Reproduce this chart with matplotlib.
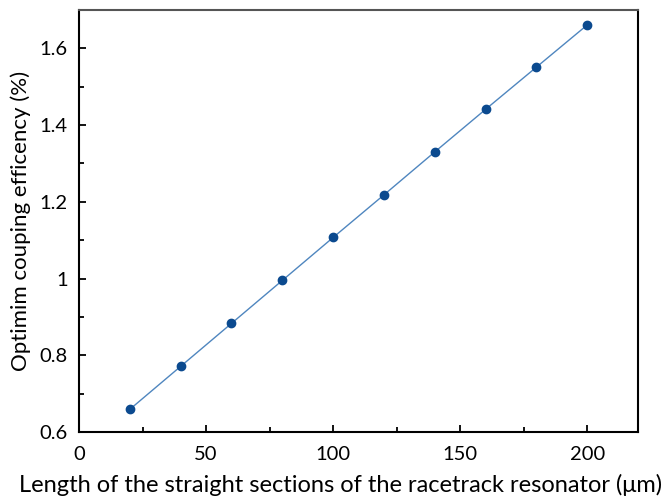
import numpy as np
import matplotlib
matplotlib.use("Agg")
import matplotlib.pyplot as plt
from matplotlib.ticker import MultipleLocator, FuncFormatter

# straight-section length (um) vs optimum coupling efficiency (%)
length_um = [20, 40, 60, 80, 100, 120, 140, 160, 180, 200]
coupling_pct = [0.659, 0.771, 0.883, 0.995, 1.107, 1.218, 1.330, 1.441, 1.551, 1.661]

plt.rcParams["font.family"] = ["Lato", "DejaVu Sans"]

fig = plt.figure(figsize=(6.71, 4.97), dpi=100)
ax = fig.add_axes([0.1177, 0.1308, 0.8333, 0.8492])

ax.plot(length_um, coupling_pct, color="#4f86bf", lw=1.0, zorder=2)
ax.plot(length_um, coupling_pct, "o", color="#0b4a8f", ms=6, zorder=3)

ax.set_xlim(0, 220)
ax.set_ylim(0.6, 1.7)
ax.xaxis.set_major_locator(MultipleLocator(50))
ax.xaxis.set_minor_locator(MultipleLocator(25))
ax.yaxis.set_major_locator(MultipleLocator(0.2))
ax.yaxis.set_minor_locator(MultipleLocator(0.1))

def fmt(v, pos):
    s = f"{v:.1f}"
    return s[:-2] if s.endswith(".0") else s

ax.yaxis.set_major_formatter(FuncFormatter(fmt))

ax.tick_params(which="both", direction="in", width=1.3, labelsize=14.5)
ax.tick_params(axis="x", pad=10)
ax.tick_params(axis="y", pad=8)
ax.tick_params(which="major", length=5)
ax.tick_params(which="minor", length=3.5)
for sp in ax.spines.values():
    sp.set_linewidth(1.5)
ax.spines["top"].set_color("#555555")

ax.set_xlabel("Length of the straight sections of the racetrack resonator (\u03bcm)",
              fontsize=17, labelpad=4)
ax.xaxis.set_label_coords(0.467, -0.1)
ax.xaxis.label.set_va("top")
ax.set_ylabel("Optimim couping efficency (%)", fontsize=16, labelpad=6)

fig.savefig("out.png", dpi=100)
